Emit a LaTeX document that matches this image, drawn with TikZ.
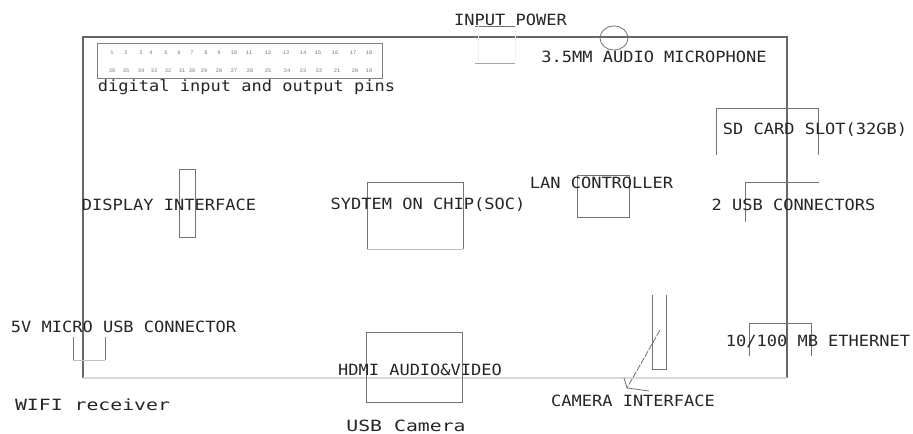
\documentclass[tikz,border=0pt]{standalone}
\usepackage{fontspec}
\setmainfont[FakeStretch=1.1]{DejaVu Sans Mono}
\newfontfamily\widemono[FakeStretch=1.28]{DejaVu Sans Mono}
\newfontfamily\pinmono{Liberation Mono}
\tikzset{
  lbl/.style={inner sep=0pt,text=black!85,font=\fontsize{11.6pt}{14pt}\selectfont},
  widelbl/.style={inner sep=0pt,text=black!85,font=\widemono\fontsize{11.6pt}{14pt}\selectfont},
  pin/.style={inner sep=0pt,text=black!55,font=\pinmono\fontsize{4pt}{5pt}\selectfont},
  part/.style={draw=black!55,line width=0.6pt},
  faint/.style={draw=black!25,line width=0.6pt},
  boardedge/.style={draw=black!60,line width=0.8pt}
}
\begin{document}
\begin{tikzpicture}[x=0.75pt,y=-0.75pt]
\path[use as bounding box,fill=white] (0,0) rectangle (913,434);
% board
\draw[boardedge] (83,378) -- (83,37) -- (787,37) -- (787,378);
\draw[draw=black!15,line width=0.8pt] (83,378) -- (787,378);
% pin header
\draw[draw=black!50,line width=0.7pt] (97,43) rectangle (382,78);
\foreach \n/\x in {1/112,2/126,3/141,4/151,5/166,6/179,7/192,8/206,9/219,10/234,11/249,12/268,13/286,14/303,15/318,16/335,17/353,18/369}
  \node[pin] (top\n) at (\x,53) {\n};
\foreach \n/\x in {36/112,35/126,34/141,33/154,32/168,31/182,30/192,29/204,28/219,27/234,26/250,25/268,24/287,23/303,22/319,21/337,20/355,19/369}
  \node[pin] (bot\n) at (\x,71) {\n};
\node[lbl] (digital) at (246.5,87) {digital input and output pins};
% input power
\node[lbl] (power) at (510.5,20) {INPUT POWER};
\draw[part] (475,26) -- (515,26);
\draw[draw=black!5,line width=0.5pt] (478,26) -- (478,63) (515,26) -- (515,63);
\draw[draw=black!35,line width=0.6pt] (475,63) -- (515,63);
% audio
\draw[part] (614,38) ellipse [x radius=14,y radius=12];
\node[lbl] (audio) at (654,57) {3.5MM AUDIO MICROPHONE};
% SD card
\draw[part] (716,155) -- (716,108) -- (818,108) -- (818,155);
\node[lbl] (sd) at (815,130) {SD CARD SLOT(32GB)};
% USB
\draw[part] (745,222) -- (745,182) -- (819,182);
\node[lbl] (usb) at (793.5,205) {2 USB CONNECTORS};
% LAN
\draw[part] (577,175) rectangle (629,217);
\node[lbl] (lan) at (601.5,183) {LAN CONTROLLER};
% SoC
\draw[part] (367,249) -- (367,182) -- (463,182) -- (463,249);
\draw[faint] (367,249) -- (463,249);
\node[lbl] (soc) at (428,205) {SYDTEM ON CHIP(SOC)};
% display
\draw[part] (179,169) rectangle (195,237);
\node[lbl] (display) at (169,205) {DISPLAY INTERFACE};
% micro usb
\draw[part] (73,337) -- (73,360) (105,337) -- (105,360);
\draw[faint] (73,360) -- (105,360);
\node[lbl] (micro) at (123.5,327) {5V MICRO USB CONNECTOR};
\node[widelbl] (wifi) at (92.5,405) {WIFI receiver};
% HDMI
\draw[part] (366,332) rectangle (462,402);
\node[lbl] (hdmi) at (420,370) {HDMI AUDIO\&VIDEO};
\node[widelbl] (cam) at (406,426) {USB Camera};
% camera interface
\draw[part] (652,295) -- (652,369) -- (666,369) -- (666,295);
\coordinate (tail) at (660,330);
\coordinate (tip) at (627,388);
\coordinate (barba) at (624,378);
\coordinate (barbb) at (649,391);
\draw[draw=black!55,line width=0.6pt,dash pattern=on 5pt off 1pt] (tail) -- (tip);
\draw[part] (barba) -- (tip) -- (barbb);
\node[lbl] (caminf) at (633,401) {CAMERA INTERFACE};
% ethernet
\draw[part] (749,356) -- (749,323) -- (811,323) -- (811,356);
\node[lbl] (eth) at (818,341) {10/100 MB ETHERNET};
\end{tikzpicture}
\end{document}
